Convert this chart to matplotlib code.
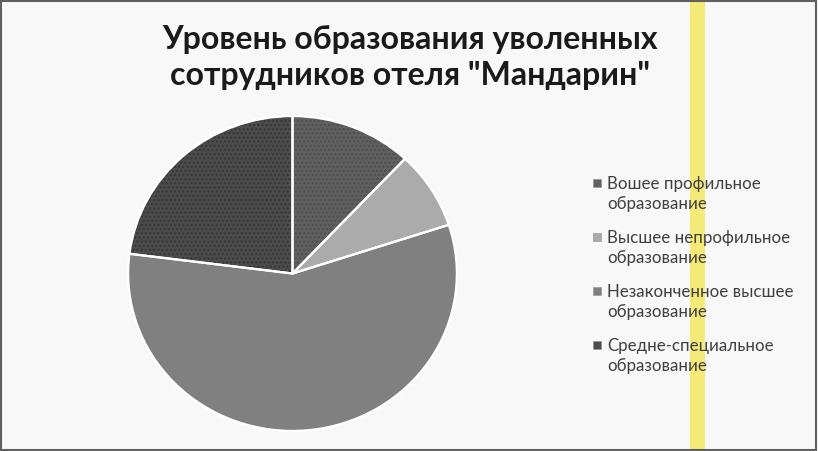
import matplotlib
matplotlib.use("Agg")
import matplotlib.pyplot as plt
from matplotlib.patches import Rectangle

# Education level of dismissed staff (share, %)
labels = ["Вошее профильное\nобразование",
          "Высшее непрофильное\nобразование",
          "Незаконченное высшее\nобразование",
          "Средне-специальное\nобразование"]
shares = [12, 8, 57, 23]
colors = ["#606060", "#ababab", "#808080", "#4b4b4b"]
hatch_colors = ["#4e4e4e", "#ababab", "#767676", "#353535"]
hatches = ["....", None, None, "...."]

plt.rcParams['font.family'] = ['Lato', 'DejaVu Sans']

W, H = 818, 452
fig = plt.figure(figsize=(W / 100, H / 100), dpi=100)
fig.patch.set_facecolor("#f8f8f8")

# pie axes: centre ~(293, 274) px, slightly wider than tall as in the picture
cx, cy, rx, ry = 292.5, 274.5, 166, 159
ax = fig.add_axes([(cx - rx) / W, (H - cy - ry) / H, 2 * rx / W, 2 * ry / H])

wedges, _ = ax.pie(shares, colors=colors, startangle=90, counterclock=False,
                   radius=1.0, wedgeprops=dict(linewidth=0))
for w, hc, h in zip(wedges, hatch_colors, hatches):
    if h:
        w.set_hatch(h)
        w.set_edgecolor(hc)
        w.set_linewidth(0)
# white separators on top
ax.pie(shares, colors=["none"] * len(shares), startangle=90, counterclock=False,
       radius=1.0, wedgeprops=dict(linewidth=1.6, edgecolor="white", facecolor="none"))
ax.set_aspect("auto")
ax.set_xlim(-1.01, 1.01)
ax.set_ylim(-1.01, 1.01)
ax.axis("off")

# title
fig.text(410 / W, 1 - 40 / H, 'Уровень образования уволенных',
         ha="center", va="center", fontsize=23, fontweight="bold", color="#1a1a1a")
fig.text(410 / W, 1 - 75 / H, 'сотрудников отеля "Мандарин"',
         ha="center", va="center", fontsize=23, fontweight="bold", color="#1a1a1a")

# legend (square next to first line of each label)
y0, step = 184, 54
for i, (lab, c) in enumerate(zip(labels, colors)):
    y = y0 + i * step
    fig.add_artist(Rectangle((593 / W, 1 - (y + 4) / H), 8 / W, 8 / H,
                             transform=fig.transFigure, facecolor=c,
                             edgecolor="#999999", linewidth=0.5))
    first, second = lab.split("\n")
    fig.text(607 / W, 1 - y / H, first, ha="left", va="center",
             fontsize=12.2, color="#404040")
    fig.text(607 / W, 1 - (y + 20) / H, second, ha="left", va="center",
             fontsize=12.2, color="#404040")

# yellow highlight strip
fig.add_artist(Rectangle((690 / W, 0), 15 / W, 1, transform=fig.transFigure,
                         facecolor="#f5e86a", edgecolor="none", alpha=0.9))

# outer frame
fig.add_artist(Rectangle((1 / W, 1 / H), (W - 3) / W, (H - 3) / H,
                         transform=fig.transFigure, facecolor="none",
                         edgecolor="#606060", linewidth=1.5))

fig.savefig("out.png", dpi=100, facecolor=fig.get_facecolor())
